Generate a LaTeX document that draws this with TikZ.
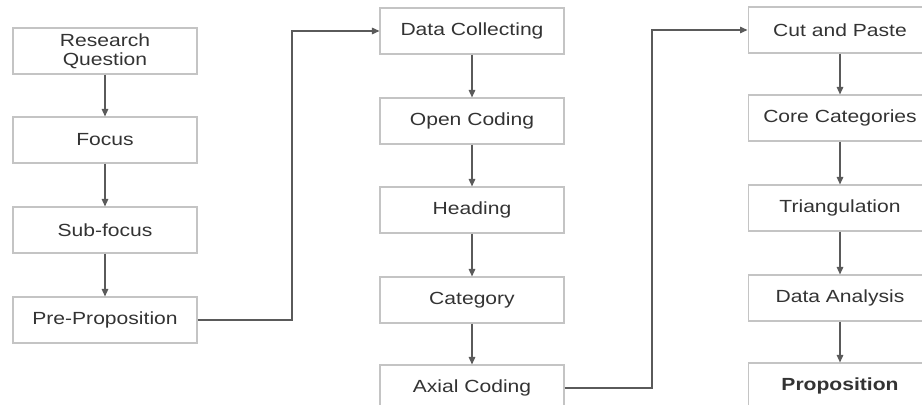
\documentclass[tikz,border=0pt]{standalone}
\usepackage{fontspec}
\setmainfont[FakeStretch=1.2]{Liberation Sans}
\usetikzlibrary{positioning,arrows.meta,calc}
\definecolor{boxline}{HTML}{C4C4C4}
\definecolor{linkline}{HTML}{5A5A5A}
\definecolor{boxtext}{HTML}{333333}

\begin{document}
\begin{tikzpicture}[x=0.02cm, y=-0.02cm,
  box/.style={draw=boxline, line width=0.6pt, minimum width=3.68cm, minimum height=0.92cm, align=center, font=\fontsize{10}{11}\selectfont, text=boxtext, inner sep=1pt},
  arrow/.style={-{Triangle[length=1.5mm, width=1.3mm]}, draw=linkline, line width=0.8pt}
]
\useasboundingbox (0,0) rectangle (922,405);
\clip (0,0) rectangle (922,405);

% first column
\node[box] (rq) at (105,51) {Research\\Question};
\node[box] (foc) at (105,140) {Focus};
\node[box] (sub) at (105,230) {Sub-focus};
\node[box] (pre) at (105,320) {Pre-Proposition};

% second column
\node[box] (dc) at (472,31) {Data Collecting};
\node[box] (oc) at (472,121) {Open Coding};
\node[box] (hd) at (472,210) {Heading};
\node[box] (cat) at (472,300) {Category};
\node[box] (ax) at (472,388) {Axial Coding};

% third column
\node[box] (cp) at (840,30) {Cut and Paste};
\node[box] (cc) at (840,118) {Core Categories};
\node[box] (tri) at (840,208) {Triangulation};
\node[box] (da) at (840,298) {Data Analysis};
\node[box] (prop) at (840,386) {\bfseries Proposition};

\coordinate (k1) at (292,0);
\coordinate (k2) at (652,0);

\draw[arrow] (rq) -- (foc);
\draw[arrow] (foc) -- (sub);
\draw[arrow] (sub) -- (pre);
\draw[arrow] (pre.east) -- (pre.east -| k1) |- (dc.west);
\draw[arrow] (dc) -- (oc);
\draw[arrow] (oc) -- (hd);
\draw[arrow] (hd) -- (cat);
\draw[arrow] (cat) -- (ax);
\draw[arrow] (ax.east) -- (ax.east -| k2) |- (cp.west);
\draw[arrow] (cp) -- (cc);
\draw[arrow] (cc) -- (tri);
\draw[arrow] (tri) -- (da);
\draw[arrow] (da) -- (prop);
\end{tikzpicture}
\end{document}
